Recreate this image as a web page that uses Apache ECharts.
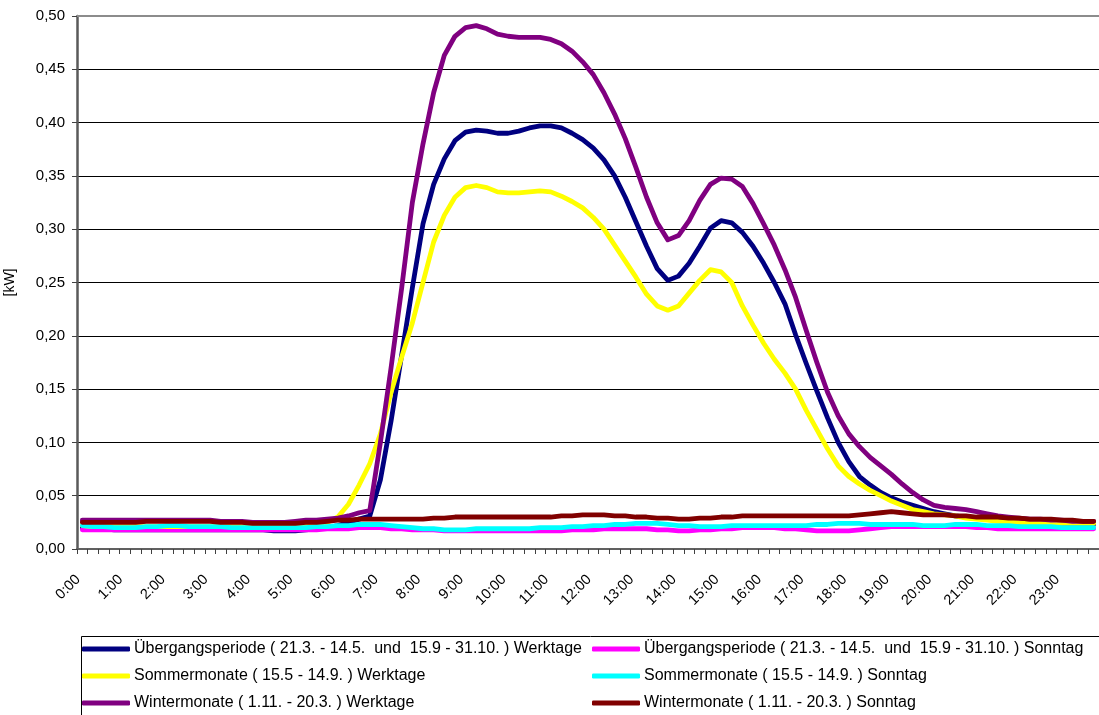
<!DOCTYPE html>
<html><head><meta charset="utf-8">
<script src="https://cdn.jsdelivr.net/npm/echarts@6/dist/echarts.min.js"></script>
<style>html,body{margin:0;padding:0;background:#fff}#c{width:1099px;height:715px}</style>
</head><body><div id="c"></div><script>
const categories = [
'0:00','0:15','0:30','0:45','1:00','1:15','1:30','1:45','2:00','2:15','2:30','2:45',
'3:00','3:15','3:30','3:45','4:00','4:15','4:30','4:45','5:00','5:15','5:30','5:45',
'6:00','6:15','6:30','6:45','7:00','7:15','7:30','7:45','8:00','8:15','8:30','8:45',
'9:00','9:15','9:30','9:45','10:00','10:15','10:30','10:45','11:00','11:15','11:30','11:45',
'12:00','12:15','12:30','12:45','13:00','13:15','13:30','13:45','14:00','14:15','14:30','14:45',
'15:00','15:15','15:30','15:45','16:00','16:15','16:30','16:45','17:00','17:15','17:30','17:45',
'18:00','18:15','18:30','18:45','19:00','19:15','19:30','19:45','20:00','20:15','20:30','20:45',
'21:00','21:15','21:30','21:45','22:00','22:15','22:30','22:45','23:00','23:15','23:30','23:45'];

const seriesNames = [
'Übergangsperiode ( 21.3. - 14.5.  und  15.9 - 31.10. ) Werktage',
'Übergangsperiode ( 21.3. - 14.5.  und  15.9 - 31.10. ) Sonntag',
'Sommermonate ( 15.5 - 14.9. ) Werktage',
'Sommermonate ( 15.5 - 14.9. ) Sonntag',
'Wintermonate ( 1.11. - 20.3. ) Werktage',
'Wintermonate ( 1.11. - 20.3. ) Sonntag'];

const uebergangWerktage = [
0.020,0.019,0.019,0.018, 0.018,0.018,0.018,0.018, 0.018,0.018,0.018,0.018,
0.018,0.018,0.018,0.018, 0.018,0.018,0.017,0.017, 0.017,0.018,0.019,0.020,
0.022,0.025,0.028,0.031, 0.065,0.120,0.182,0.245, 0.305,0.342,0.366,0.383,
0.391,0.393,0.392,0.390, 0.390,0.392,0.395,0.397, 0.397,0.395,0.390,0.384,
0.376,0.365,0.350,0.330, 0.307,0.284,0.263,0.252, 0.256,0.268,0.284,0.301,
0.308,0.306,0.297,0.284, 0.268,0.250,0.230,0.201, 0.174,0.148,0.123,0.100,
0.082,0.068,0.060,0.053, 0.048,0.044,0.041,0.038, 0.035,0.033,0.031,0.030,
0.029,0.028,0.027,0.026, 0.025,0.025,0.024,0.024, 0.024,0.023,0.023,0.023];

const uebergangSonntag = [
0.018,0.018,0.018,0.018, 0.018,0.018,0.018,0.018, 0.018,0.018,0.018,0.018,
0.018,0.018,0.018,0.018, 0.018,0.018,0.018,0.018, 0.018,0.018,0.018,0.019,
0.019,0.019,0.020,0.020, 0.020,0.019,0.019,0.018, 0.018,0.018,0.017,0.017,
0.017,0.017,0.017,0.017, 0.017,0.017,0.017,0.017, 0.017,0.017,0.018,0.018,
0.018,0.019,0.019,0.019, 0.019,0.019,0.018,0.018, 0.017,0.017,0.018,0.018,
0.019,0.019,0.020,0.020, 0.020,0.020,0.019,0.019, 0.018,0.017,0.017,0.017,
0.017,0.018,0.019,0.020, 0.021,0.021,0.021,0.021, 0.021,0.021,0.021,0.021,
0.020,0.020,0.019,0.019, 0.019,0.019,0.019,0.019, 0.019,0.019,0.019,0.019];

const sommerWerktage = [
0.022,0.021,0.021,0.021, 0.021,0.021,0.021,0.021, 0.021,0.021,0.021,0.021,
0.021,0.021,0.021,0.021, 0.021,0.021,0.021,0.021, 0.021,0.021,0.022,0.025,
0.030,0.042,0.060,0.080, 0.108,0.147,0.180,0.212, 0.250,0.288,0.313,0.330,
0.339,0.341,0.339,0.335, 0.334,0.334,0.335,0.336, 0.335,0.331,0.326,0.320,
0.311,0.300,0.285,0.270, 0.255,0.239,0.228,0.224, 0.228,0.240,0.252,0.262,
0.260,0.250,0.228,0.210, 0.193,0.178,0.165,0.150, 0.130,0.112,0.094,0.078,
0.068,0.061,0.055,0.050, 0.045,0.041,0.037,0.035, 0.033,0.032,0.031,0.029,
0.028,0.027,0.026,0.025, 0.025,0.024,0.024,0.024, 0.024,0.024,0.024,0.024];

const sommerSonntag = [
0.022,0.021,0.021,0.020, 0.020,0.020,0.021,0.021, 0.022,0.022,0.021,0.021,
0.021,0.021,0.020,0.020, 0.020,0.020,0.020,0.020, 0.020,0.020,0.021,0.021,
0.022,0.022,0.023,0.023, 0.023,0.022,0.021,0.020, 0.019,0.019,0.018,0.018,
0.018,0.019,0.019,0.019, 0.019,0.019,0.019,0.020, 0.020,0.020,0.021,0.021,
0.022,0.022,0.023,0.023, 0.024,0.024,0.024,0.023, 0.022,0.022,0.021,0.021,
0.021,0.022,0.022,0.022, 0.022,0.022,0.022,0.022, 0.022,0.023,0.023,0.024,
0.024,0.024,0.023,0.023, 0.023,0.023,0.023,0.022, 0.022,0.022,0.023,0.023,
0.023,0.022,0.022,0.022, 0.021,0.021,0.021,0.021, 0.020,0.020,0.020,0.020];

const winterWerktage = [
0.027,0.027,0.027,0.027, 0.027,0.027,0.027,0.027, 0.027,0.027,0.027,0.027,
0.027,0.026,0.026,0.026, 0.025,0.025,0.025,0.025, 0.026,0.027,0.027,0.028,
0.029,0.031,0.034,0.036, 0.100,0.170,0.245,0.325, 0.380,0.428,0.463,0.481,
0.489,0.491,0.488,0.483, 0.481,0.480,0.480,0.480, 0.478,0.474,0.467,0.457,
0.445,0.428,0.408,0.385, 0.358,0.330,0.306,0.290, 0.294,0.308,0.327,0.342,
0.348,0.347,0.340,0.324, 0.305,0.285,0.262,0.236, 0.205,0.175,0.147,0.125,
0.108,0.096,0.086,0.078, 0.070,0.061,0.053,0.046, 0.041,0.039,0.038,0.037,
0.035,0.033,0.031,0.030, 0.029,0.028,0.028,0.027, 0.027,0.026,0.026,0.026];

const winterSonntag = [
0.025,0.025,0.025,0.025, 0.025,0.025,0.026,0.026, 0.026,0.026,0.026,0.026,
0.026,0.025,0.025,0.025, 0.024,0.024,0.024,0.024, 0.024,0.025,0.025,0.026,
0.027,0.027,0.028,0.028, 0.028,0.028,0.028,0.028, 0.028,0.029,0.029,0.030,
0.030,0.030,0.030,0.030, 0.030,0.030,0.030,0.030, 0.030,0.031,0.031,0.032,
0.032,0.032,0.031,0.031, 0.030,0.030,0.029,0.029, 0.028,0.028,0.029,0.029,
0.030,0.030,0.031,0.031, 0.031,0.031,0.031,0.031, 0.031,0.031,0.031,0.031,
0.031,0.032,0.033,0.034, 0.035,0.034,0.033,0.032, 0.032,0.032,0.031,0.031,
0.030,0.030,0.030,0.029, 0.029,0.028,0.028,0.028, 0.027,0.027,0.026,0.026];

const seriesColors = ['#000080','#FF00FF','#FFFF00','#00FFFF','#800080','#800000'];
const seriesData = [uebergangWerktage, uebergangSonntag, sommerWerktage, sommerSonntag, winterWerktage, winterSonntag];

const FONT = '"Liberation Sans", Arial, Helvetica, sans-serif';
const chart = echarts.init(document.getElementById('c'), null, {renderer: 'canvas'});

const legendCommon = {
  orient: 'vertical', padding: 0, itemGap: 9, itemWidth: 48, itemHeight: 5,
  icon: 'roundRect', selectedMode: false,
  textStyle: {fontFamily: FONT, fontSize: 16, color: '#000', lineHeight: 18, padding: [0,0,0,-1]}
};

const option = {
  animation: false,
  backgroundColor: '#ffffff',
  grid: {left: 77, right: 0, top: 16, bottom: 166, containLabel: false, outerBoundsMode: 'none'},
  xAxis: [{
    type: 'category', data: categories, boundaryGap: true,
    axisLine: {lineStyle: {color: '#606060', width: 2}},
    axisTick: {show: true, interval: 0, length: 5, lineStyle: {color: '#404040', width: 1}},
    axisLabel: {interval: 3, rotate: 45, margin: 24, padding: [0, 6, 0, 0], fontSize: 14.5, color: '#000', fontFamily: FONT},
    splitLine: {show: false}
  }, {
    type: 'category', data: categories, position: 'top', boundaryGap: true,
    axisLine: {lineStyle: {color: '#8c8c8c', width: 2}},
    axisTick: {show: false}, axisLabel: {show: false}, splitLine: {show: false}
  }],
  yAxis: {
    type: 'value', min: 0, max: 0.5, interval: 0.05,
    name: '[kW]', nameLocation: 'middle', nameGap: 60, nameRotate: 90,
    nameTextStyle: {fontFamily: FONT, fontSize: 14, color: '#000'},
    axisLine: {show: true, lineStyle: {color: '#5a5a5a', width: 2.5}},
    axisTick: {show: true, length: 5, lineStyle: {color: '#404040'}},
    axisLabel: {margin: 12, fontSize: 15, color: '#000', fontFamily: FONT,
      formatter: v => v.toFixed(2).replace('.', ',')},
    splitLine: {show: true, lineStyle: {color: '#000', width: 1}}
  },
  legend: [
    Object.assign({left: 82, top: 640, data: [seriesNames[0], seriesNames[2], seriesNames[4]]}, legendCommon),
    Object.assign({left: 592, top: 640, data: [seriesNames[1], seriesNames[3], seriesNames[5]]}, legendCommon)
  ],
  graphic: [{
    type: 'rect', left: 79, top: 634, silent: true,
    shape: {x: 0, y: 0, width: 1018, height: 90},
    style: {fill: 'none', stroke: '#000', lineWidth: 1}
  }],
  series: seriesNames.map((n, k) => ({
    name: n, type: 'line', data: seriesData[k], showSymbol: false, symbol: 'none',
    smooth: false, color: seriesColors[k],
    lineStyle: {color: seriesColors[k], width: 4.8, cap: 'round', join: 'round'},
    itemStyle: {color: seriesColors[k]}
  }))
};
chart.setOption(option);
</script></body></html>
